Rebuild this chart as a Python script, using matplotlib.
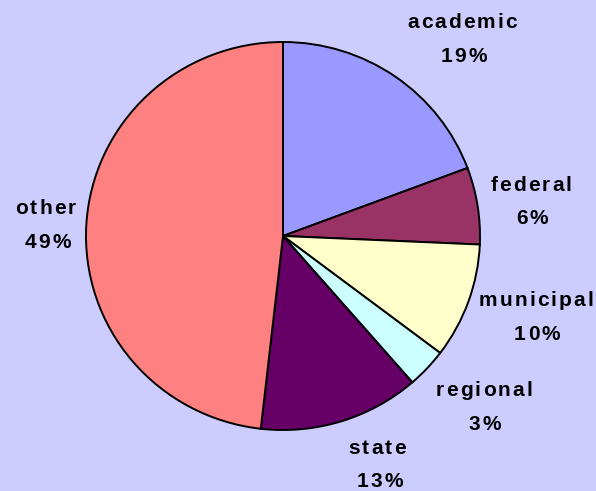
import matplotlib
matplotlib.use("Agg")
import matplotlib.pyplot as plt
from matplotlib.font_manager import FontProperties, findfont
from matplotlib.ft2font import FT2Font
from matplotlib.transforms import IdentityTransform

categories = ["academic", "federal", "municipal", "regional", "state", "other"]
values = [19.3, 6.4, 9.6, 3.3, 13.2, 48.2]
pct_labels = ["19%", "6%", "10%", "3%", "13%", "49%"]
colors = ["#9999FF", "#993366", "#FFFFCC", "#CCFFFF", "#660066", "#FF8080"]
# label layout: (centre x, baseline y from top) for name line and percent line
name_pos = [(462, 27.5), (531, 191), (536, 306.5), (484, 396.5), (377, 453.5), (45.5, 214)]
pct_pos = [(464, 61.7), (532, 224.5), (537, 340), (485, 430), (380, 486.7), (48, 248.3)]

W, H = 596, 491
DPI = 100
fig = plt.figure(figsize=(W / DPI, H / DPI), dpi=DPI)
fig.patch.set_facecolor("#CCCCFF")

cx, cy, rx, ry = 283, 236, 197, 194
ax = fig.add_axes([(cx - rx) / W, (H - cy - ry) / H, 2 * rx / W, 2 * ry / H])
ax.set_facecolor("#CCCCFF")
ax.pie(values, colors=colors, startangle=90, counterclock=False,
       wedgeprops=dict(edgecolor="black", linewidth=1.4), radius=1)
ax.set_aspect("auto")
ax.set_xlim(-1.0, 1.0)
ax.set_ylim(-1.0, 1.0)
ax.axis("off")

fp = FontProperties(family="Liberation Sans", weight="bold", size=15)
font = FT2Font(findfont(fp))
font.set_size(15, DPI)
TRACK = 2.1


def advance(ch):
    g = font.load_char(ord(ch))
    return g.linearHoriAdvance / 65536.0


def tracked_text(s, xc, yb_top):
    advs = [advance(c) for c in s]
    total = sum(advs) + TRACK * (len(s) - 1)
    x = xc - total / 2
    y = H - yb_top
    for c, a in zip(s, advs):
        fig.text(x, y, c, transform=IdentityTransform(), fontproperties=fp,
                 ha="left", va="baseline", color="black")
        x += a + TRACK


for cat, pl, npos, ppos in zip(categories, pct_labels, name_pos, pct_pos):
    tracked_text(cat, *npos)
    tracked_text(pl, *ppos)

fig.savefig("out.png", dpi=DPI, facecolor=fig.get_facecolor())
